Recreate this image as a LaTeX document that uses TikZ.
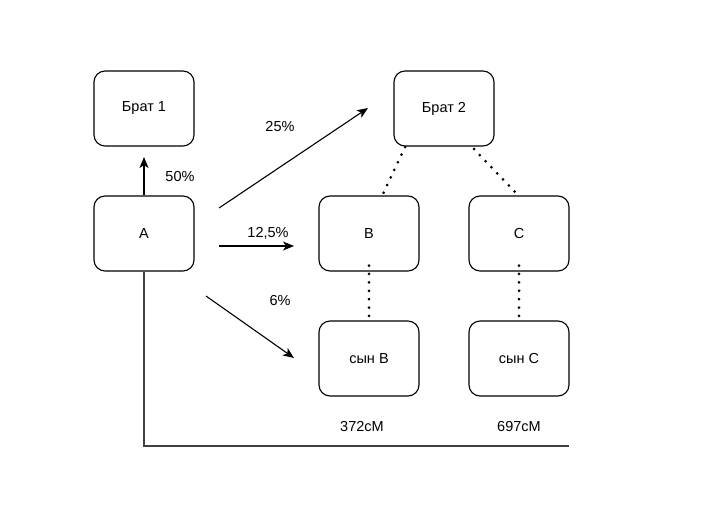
\documentclass[tikz,border=0pt]{standalone}
\usepackage{fontspec}
\setmainfont{Liberation Sans}
\usetikzlibrary{arrows.meta}
\begin{document}
\begin{tikzpicture}[x=1pt,y=-1pt,
  box/.style={draw=black,line width=1.1pt,rounded corners=11pt,minimum width=100pt,minimum height=75pt,inner sep=0pt,font=\fontsize{14.5}{16}\selectfont},
  lbl/.style={font=\fontsize{14.5}{16}\selectfont,inner sep=0pt},
  arr/.style={line width=1.1pt,-{Stealth[length=11pt,width=9pt,inset=3pt]}},
  dots/.style={line width=3pt,line cap=round,dash pattern=on 0pt off 8.4pt},
  plain/.style={line width=1.3pt,draw=black!75}]
\useasboundingbox (0,0) rectangle (718,525);
\node[box] (b1) at (144,108.5) {Брат 1};
\node[box] (a) at (144,233.5) {A};
\node[box] (b2) at (444,108.5) {Брат 2};
\node[box] (b) at (369,233.5) {B};
\node[box] (c) at (519,233.5) {C};
\node[box] (sb) at (369,358.5) {сын B};
\node[box] (sc) at (519,358.5) {сын C};
% arrow endpoints
\coordinate (t1) at (144,157);
\coordinate (s2) at (219,208);
\coordinate (t2) at (368,108);
\coordinate (s3) at (219,246);
\coordinate (t3) at (294,246);
\coordinate (s4) at (206,296);
\coordinate (t4) at (294,358);
\draw[arr] (a.north) -- (t1);
\draw[arr] (s2) -- (t2);
\draw[arr] (s3) -- (t3);
\draw[arr] (s4) -- (t4);
\node[lbl] (l50) at (180,177) {50\%};
\node[lbl] (l25) at (280,127) {25\%};
\node[lbl] (l125) at (268,233) {12,5\%};
\node[lbl] (l6) at (280,301) {6\%};
% dotted
\coordinate (d1) at (405,147);
\coordinate (d2) at (383,194);
\coordinate (d3) at (474,149);
\coordinate (d4) at (518,195);
\draw[dots] (d1) -- (d2);
\draw[dots] (d3) -- (d4);
\draw[dots] ([yshift=6pt]b.south) -- (sb.north);
\draw[dots] ([yshift=6pt]c.south) -- (sc.north);
% bottom line
\coordinate (e) at (569,446);
\draw[plain] (a.south) |- (e);
\node[lbl] (m1) at (362,427) {372cM};
\node[lbl] (m2) at (519,427) {697cM};
\end{tikzpicture}
\end{document}
